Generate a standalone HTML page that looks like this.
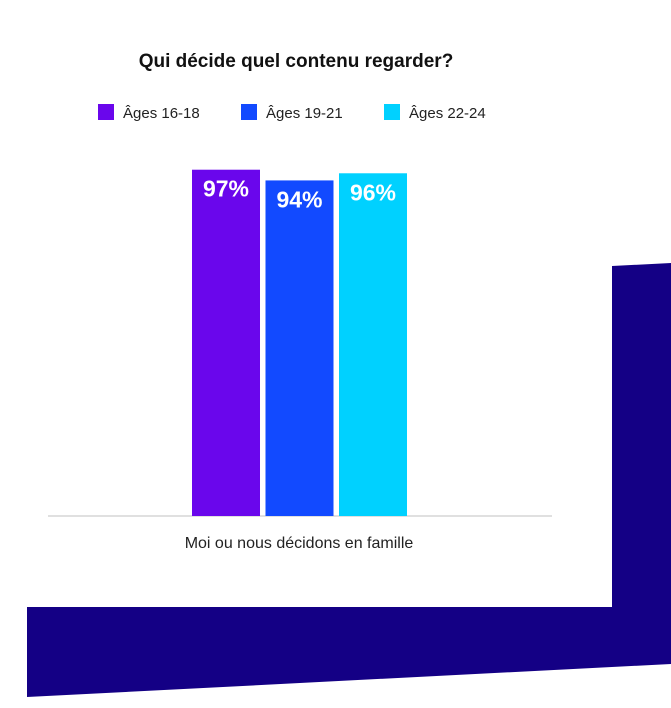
<!DOCTYPE html>
<html><head><meta charset="utf-8"><style>
body{margin:0;background:#fff;width:671px;height:703px;overflow:hidden;font-family:"Liberation Sans",sans-serif}
</style></head><body>
<svg width="671" height="703">
<polygon points="612,266 671,263 671,664 27,697 27,607 612,607" fill="#140085"/>
<text x="296" y="67" text-anchor="middle" font-size="19" font-weight="bold" fill="#111">Qui décide quel contenu regarder?</text>
<g id="legend"></g>
<line x1="48" x2="552" y1="516" y2="516" stroke="#e0e0e0" stroke-width="2"/>
<text x="299" y="548" text-anchor="middle" font-size="16" fill="#222">Moi ou nous décidons en famille</text>
<g id="bars"></g>
</svg>
<script>
const seriesNames=["Âges 16-18","Âges 19-21","Âges 22-24"];
const values=[97,94,96];
const labels=["97%","94%","96%"];
const colors=["#6a06ec","#124aff","#00d1ff"];
const ns="http://www.w3.org/2000/svg";
const base=516, k=3.57, x0=192, bw=68, gap=5.5;
const yS=v=>base-v*k;
const bars=document.getElementById('bars');
values.forEach((v,i)=>{
 const x=x0+i*(bw+gap);
 const r=document.createElementNS(ns,'rect');
 
 
 r.setAttribute('x',x);r.setAttribute('y',yS(v));r.setAttribute('width',bw);r.setAttribute('height',base-yS(v));r.setAttribute('fill',colors[i]);
 bars.appendChild(r);
 const t=document.createElementNS(ns,'text');
 
 
 t.setAttribute('x',x+bw/2);t.setAttribute('y',yS(v)+27);t.setAttribute('text-anchor','middle');
 t.setAttribute('font-size','23');t.setAttribute('font-weight','bold');t.setAttribute('fill','#fff');
 t.textContent=labels[i];bars.appendChild(t);
});
const lg=document.getElementById('legend');
const lx=[98,241,384];
seriesNames.forEach((n,i)=>{
 const r=document.createElementNS(ns,'rect');
 
 
 r.setAttribute('x',lx[i]);r.setAttribute('y',104);r.setAttribute('width',16);r.setAttribute('height',16);r.setAttribute('fill',colors[i]);
 lg.appendChild(r);
 const t=document.createElementNS(ns,'text');
 
 
 t.setAttribute('x',lx[i]+25);t.setAttribute('y',118);t.setAttribute('font-size','15');t.setAttribute('fill','#222');
 t.textContent=n;lg.appendChild(t);
});
</script>
</body></html>
